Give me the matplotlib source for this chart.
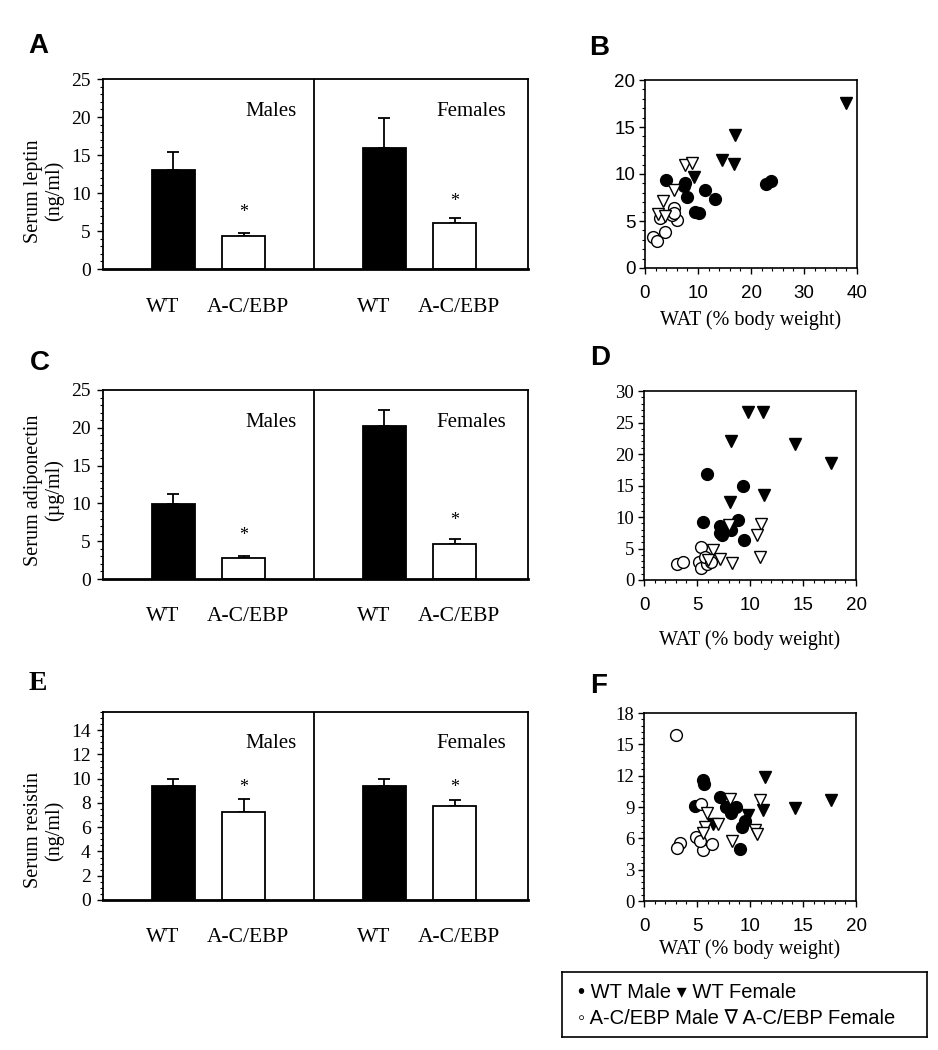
import numpy as np
import matplotlib
matplotlib.use("Agg")
import matplotlib.pyplot as plt
from matplotlib.ticker import MultipleLocator

plt.rcParams["font.family"] = ["Liberation Serif", "DejaVu Serif"]

# ----------------------------
# Bar data (WT male, A-C/EBP male, WT female, A-C/EBP female)
# ----------------------------
bar_groups = ["Males", "Females"]
bar_cats = ["WT", "A-C/EBP"]

leptin_mean = [13.0, 4.3, 15.9, 6.0]
leptin_err = [2.4, 0.5, 4.0, 0.75]
leptin_star = [7.4, 8.9]

adipo_mean = [9.9, 2.8, 20.3, 4.6]
adipo_err = [1.3, 0.2, 2.0, 0.65]
adipo_star = [5.8, 7.8]

resistin_mean = [9.4, 7.25, 9.4, 7.75]
resistin_err = [0.55, 1.1, 0.6, 0.5]
resistin_star = [9.3, 9.3]

# ----------------------------
# Scatter data: serum level vs WAT (% body weight)
# ----------------------------
# B: leptin
b_wt_m_x = [4.0, 7.6, 7.3, 7.9, 11.4, 13.3, 9.5, 10.2, 22.9, 23.8]
b_wt_m_y = [9.4, 9.0, 8.7, 7.6, 8.3, 7.3, 6.0, 5.8, 8.9, 9.3]
b_wt_f_x = [37.9, 17.0, 14.6, 16.8, 9.2]
b_wt_f_y = [17.6, 14.1, 11.5, 11.1, 9.7]
b_ac_m_x = [1.6, 2.2, 3.7, 5.4, 6.0, 5.0, 2.9, 5.5]
b_ac_m_y = [3.3, 2.9, 3.8, 6.4, 5.1, 5.6, 5.3, 5.9]
b_ac_f_x = [7.6, 8.9, 5.4, 3.4, 2.5, 3.8]
b_ac_f_y = [11.0, 11.2, 8.3, 7.1, 5.7, 5.5]

# D: adiponectin
d_wt_m_x = [5.9, 9.3, 5.6, 7.2, 8.9, 7.4, 8.2, 9.4, 7.2]
d_wt_m_y = [16.8, 14.9, 9.25, 8.5, 9.5, 7.1, 8.0, 6.3, 7.4]
d_wt_f_x = [9.8, 11.2, 8.2, 14.2, 17.6, 11.35, 8.1]
d_wt_f_y = [26.7, 26.7, 22.0, 21.6, 18.6, 13.5, 12.4]
d_ac_m_x = [3.1, 3.7, 5.4, 5.2, 5.4, 5.9, 5.8, 6.3]
d_ac_m_y = [2.6, 2.9, 5.3, 2.9, 1.9, 2.5, 3.7, 2.8]
d_ac_f_x = [8.0, 11.0, 10.7, 10.9, 8.3, 6.5, 7.2, 6.0]
d_ac_f_y = [8.7, 8.9, 7.1, 3.6, 2.75, 4.8, 3.3, 3.2]

# F: resistin
f_wt_m_x = [5.6, 5.7, 4.8, 7.2, 7.7, 8.7, 8.2, 9.2, 9.5, 9.05]
f_wt_m_y = [11.6, 11.2, 9.1, 10.0, 9.0, 9.0, 8.4, 7.1, 7.7, 5.0]
f_wt_f_x = [11.4, 17.6, 14.2, 11.2, 9.8, 6.5]
f_wt_f_y = [11.9, 9.7, 8.9, 8.7, 8.2, 7.4]
f_ac_m_x = [3.0, 5.4, 3.4, 3.1, 4.95, 5.6, 6.4, 5.3]
f_ac_m_y = [15.9, 9.3, 5.6, 5.1, 6.1, 4.9, 5.5, 5.7]
f_ac_f_x = [8.1, 10.95, 5.9, 5.8, 7.0, 10.5, 10.7, 8.3, 5.6]
f_ac_f_y = [9.8, 9.65, 8.4, 7.1, 7.4, 6.8, 6.4, 5.7, 6.5]

W, H = 938, 1050
fig = plt.figure(figsize=(W / 100, H / 100), dpi=100)


def rect(l, t, r, b):
    return [l / W, 1 - b / H, (r - l) / W, (b - t) / H]


SANS = ["Liberation Sans", "DejaVu Sans"]


def bar_panel(box, means, errs, stars, ylim, ystep, minor, ylabel, label_y):
    ax = fig.add_axes(rect(*box))
    pos = np.array([0, 1, 3, 4])
    colors = ["black", "white", "black", "white"]
    ax.errorbar(pos, means, yerr=[np.zeros(4), errs], fmt="none", ecolor="black",
                elinewidth=1.3, capsize=4, capthick=1.3, zorder=1)
    ax.bar(pos, means, width=0.61, color=colors, edgecolor="black", linewidth=1.3, zorder=2)
    ax.axvline(2.0, color="black", lw=1.3)
    ax.set_xlim(-1.0, 5.04)
    ax.set_ylim(*ylim)
    ax.set_xticks([])
    ax.yaxis.set_major_locator(MultipleLocator(ystep))
    ax.yaxis.set_minor_locator(MultipleLocator(minor))
    ax.tick_params(axis="y", which="major", direction="out", length=4, width=1, labelsize=14, pad=5)
    ax.tick_params(axis="y", which="minor", direction="out", length=2, width=0.8)
    for s in ax.spines.values():
        s.set_linewidth(1.3)
    ax.spines["bottom"].set_linewidth(2.0)

    for i, (g, gx) in enumerate(zip(bar_groups, [1.39, 4.24])):
        ax.text(gx, 0.83, g, transform=ax.get_xaxis_transform(), ha="center", va="center",
                fontsize=15)
        ax.text(pos[2 * i + 1], stars[i], "*", ha="center", va="center", fontsize=13)
        ax.text(pos[2 * i] - 0.15, -0.2, bar_cats[0], transform=ax.get_xaxis_transform(),
                ha="center", va="center", fontsize=15.5)
        ax.text(pos[2 * i + 1] + 0.06, -0.2, bar_cats[1], transform=ax.get_xaxis_transform(),
                ha="center", va="center", fontsize=15.5)
    ax.text(-0.139, label_y, ylabel, transform=ax.transAxes, rotation=90, ha="center",
            va="center", fontsize=14.5, linespacing=1.05)
    return ax


def scatter_panel(box, data, xlim, xstep, ylim, ystep, ysans, xlabel_pad):
    ax = fig.add_axes(rect(*box))
    (wm_x, wm_y), (wf_x, wf_y), (am_x, am_y), (af_x, af_y) = data
    ms = 8.5
    ax.plot(wm_x, wm_y, "o", ms=ms, mfc="black", mec="black", zorder=2)
    ax.plot(wf_x, wf_y, "v", ms=ms, mfc="black", mec="black", zorder=2)
    ax.plot(am_x, am_y, "o", ms=ms, mfc="white", mec="black", mew=1.0, zorder=3)
    ax.plot(af_x, af_y, "v", ms=ms, mfc="white", mec="black", mew=1.0, zorder=3)
    ax.set_xlim(*xlim)
    ax.set_ylim(*ylim)
    ax.xaxis.set_major_locator(MultipleLocator(xstep))
    ax.yaxis.set_major_locator(MultipleLocator(ystep))
    ax.xaxis.set_minor_locator(MultipleLocator(xstep / 5))
    ax.yaxis.set_minor_locator(MultipleLocator(ystep / 5))
    ax.tick_params(which="major", direction="out", length=4, width=1, labelsize=13.5, pad=3)
    ax.tick_params(axis="x", which="major", pad=8)
    ax.tick_params(which="minor", direction="out", length=2, width=0.8)
    for lab in ax.get_xticklabels():
        lab.set_family(SANS)
    for lab in ax.get_yticklabels():
        lab.set_family(SANS if ysans else ["Liberation Serif"])
    for s in ax.spines.values():
        s.set_linewidth(1.2)
    ax.set_xlabel("WAT (% body weight)", fontsize=14.5, labelpad=xlabel_pad)
    return ax


bar_panel((103, 79, 528, 269), leptin_mean, leptin_err, leptin_star, (0, 25), 5, 1,
          "Serum leptin\n(ng/ml)", 0.41)
bar_panel((103, 390, 528, 579), adipo_mean, adipo_err, adipo_star, (0, 25), 5, 1,
          "Serum adiponectin\n(\u00b5g/ml)", 0.47)
bar_panel((103, 712, 528, 900), resistin_mean, resistin_err, resistin_star, (0, 15.5), 2, 0.5,
          "Serum resistin\n(ng/ml)", 0.37)

scatter_panel((645, 80, 857, 268),
              [(b_wt_m_x, b_wt_m_y), (b_wt_f_x, b_wt_f_y), (b_ac_m_x, b_ac_m_y), (b_ac_f_x, b_ac_f_y)],
              (0, 40), 10, (0, 20), 5, True, 6)
scatter_panel((644, 391, 856, 580),
              [(d_wt_m_x, d_wt_m_y), (d_wt_f_x, d_wt_f_y), (d_ac_m_x, d_ac_m_y), (d_ac_f_x, d_ac_f_y)],
              (0, 20), 5, (0, 30), 5, False, 12)
scatter_panel((644, 713, 856, 901),
              [(f_wt_m_x, f_wt_m_y), (f_wt_f_x, f_wt_f_y), (f_ac_m_x, f_ac_m_y), (f_ac_f_x, f_ac_f_y)],
              (0, 20), 5, (0, 18), 3, False, 3)

# panel letters
for letter, x, yb, fam in [("A", 28, 53, SANS), ("B", 589, 55, SANS), ("C", 30, 370, SANS),
                           ("D", 590, 365, SANS), ("E", 29, 690, ["Liberation Serif"]),
                           ("F", 590, 693, SANS)]:
    fig.text(x / W, 1 - yb / H, letter, fontsize=20, fontweight="bold", family=fam,
             ha="left", va="baseline")

# legend box
lax = fig.add_axes(rect(562, 972, 927, 1037))
lax.set_xticks([])
lax.set_yticks([])
for s in lax.spines.values():
    s.set_linewidth(1.2)
lax.text(0.044, 0.68, "\u2022 WT Male \u25be WT Female", transform=lax.transAxes,
         ha="left", va="center", fontsize=14.5, family=SANS)
lax.text(0.044, 0.29, "\u25e6 A-C/EBP Male \u2207 A-C/EBP Female", transform=lax.transAxes,
         ha="left", va="center", fontsize=14.5, family=SANS)

fig.savefig("out.png", dpi=100)
